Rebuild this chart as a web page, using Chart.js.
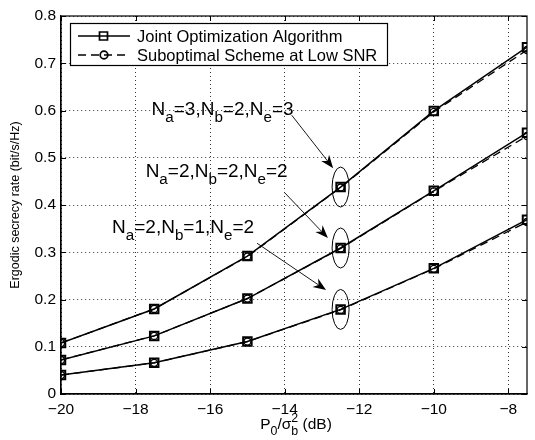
<!DOCTYPE html>
<html>
<head>
<meta charset="utf-8">
<script src="https://cdn.jsdelivr.net/npm/chart.js@4.4.1/dist/chart.umd.min.js"></script>
<style>
  html, body { margin: 0; padding: 0; background: #fff; }
  #wrap { width: 535px; height: 440px; }
</style>
</head>
<body>
<div id="wrap"><canvas id="chart" width="535" height="440"></canvas></div>
<script>
// P0/sigma_b^2 in dB
const snr = [-20, -17.5, -15, -12.5, -10, -7.5];
const xTicks = [-20, -18, -16, -14, -12, -10, -8];
const yTicks = [0, 0.1, 0.2, 0.3, 0.4, 0.5, 0.6, 0.7, 0.8];

// joint optimization algorithm
const joint323 = [0.108, 0.180, 0.292, 0.438, 0.599, 0.734];
const joint222 = [0.072, 0.123, 0.202, 0.309, 0.430, 0.553];
const joint212 = [0.040, 0.066, 0.111, 0.179, 0.266, 0.369];

// suboptimal scheme at low SNR
const sub323 = [0.108, 0.180, 0.291, 0.437, 0.597, 0.728];
const sub222 = [0.072, 0.123, 0.202, 0.308, 0.429, 0.546];
const sub212 = [0.040, 0.066, 0.111, 0.178, 0.265, 0.364];

const FONT = '"Liberation Sans", Arial, Helvetica, sans-serif';

function pts(ys) {
    return snr.map((x, i) => ({ x: x, y: ys[i] }));
}

function solid(ys) {
    return {
        data: pts(ys),
        borderColor: '#000',
        borderWidth: 1.5,
        pointStyle: 'rect',
        pointRadius: 6,
        pointBorderWidth: 2,
        pointBorderColor: '#000',
        pointBackgroundColor: 'rgba(0,0,0,0)',
        tension: 0
    };
}

function dashed(ys) {
    return {
        data: pts(ys),
        borderColor: '#000',
        borderWidth: 1.3,
        borderDash: [8, 5],
        pointStyle: 'circle',
        pointRadius: 3.5,
        pointBorderWidth: 1.3,
        pointBorderColor: '#000',
        pointBackgroundColor: 'rgba(0,0,0,0)',
        tension: 0
    };
}

// draws text with subscripts / superscripts
function richText(ctx, parts, x, y, size) {
    let cx = x;
    parts.forEach(p => {
        let fs = size, dy = 0;
        if (p.sub) { fs = size * 0.8; dy = size * 0.38; }
        if (p.sup) { fs = size * 0.8; dy = -size * 0.42; }
        ctx.font = fs + 'px ' + FONT;
        ctx.fillText(p.t, cx, y + dy);
        if (!p.stack) cx += ctx.measureText(p.t).width;
    });
    return cx;
}

function richWidth(ctx, parts, size) {
    let w = 0;
    parts.forEach(p => {
        const fs = (p.sub || p.sup) ? size * 0.8 : size;
        ctx.font = fs + 'px ' + FONT;
        if (!p.stack) w += ctx.measureText(p.t).width;
    });
    return w;
}

function nLabel(a, b, e) {
    return [
        { t: 'N' }, { t: 'a', sub: true }, { t: '=' + a + ',' },
        { t: 'N' }, { t: 'b', sub: true }, { t: '=' + b + ',' },
        { t: 'N' }, { t: 'e', sub: true }, { t: '=' + e }
    ];
}

function arrow(ctx, x1, y1, x2, y2) {
    const ang = Math.atan2(y2 - y1, x2 - x1);
    const len = 13, half = 5;
    ctx.beginPath();
    ctx.moveTo(x1, y1);
    ctx.lineTo(x2 - Math.cos(ang) * len * 0.7, y2 - Math.sin(ang) * len * 0.7);
    ctx.lineWidth = 0.9;
    ctx.stroke();
    ctx.save();
    ctx.translate(x2, y2);
    ctx.rotate(ang);
    ctx.beginPath();
    ctx.moveTo(0, 0);
    ctx.lineTo(-len, -half);
    ctx.lineTo(-len * 0.7, 0);
    ctx.lineTo(-len, half);
    ctx.closePath();
    ctx.fill();
    ctx.restore();
}

const decor = {
    id: 'decor',
    afterDraw(chart, args, opts) {
        const ctx = chart.ctx;
        const xs = chart.scales.x, ys = chart.scales.y;
        const a = chart.chartArea;
        ctx.save();
        ctx.strokeStyle = '#000';
        ctx.fillStyle = '#000';

        // box
        ctx.lineWidth = 1.2;
        ctx.strokeRect(a.left, a.top, a.right - a.left, a.bottom - a.top);

        // inward ticks
        ctx.lineWidth = 1;
        ctx.beginPath();
        xTicks.forEach(v => {
            const px = Math.round(xs.getPixelForValue(v)) + 0.5;
            ctx.moveTo(px, a.bottom); ctx.lineTo(px, a.bottom - 5);
            ctx.moveTo(px, a.top); ctx.lineTo(px, a.top + 5);
        });
        yTicks.forEach(v => {
            const py = Math.round(ys.getPixelForValue(v)) + 0.5;
            ctx.moveTo(a.left, py); ctx.lineTo(a.left + 5, py);
            ctx.moveTo(a.right, py); ctx.lineTo(a.right - 5, py);
        });
        ctx.stroke();

        // ellipses around the -12.5 dB points
        ctx.lineWidth = 1;
        [joint323, joint222, joint212].forEach(s => {
            const i = snr.indexOf(-12.5);
            ctx.beginPath();
            ctx.ellipse(xs.getPixelForValue(snr[i]), ys.getPixelForValue(s[i]), 8.5, 20, 0, 0, Math.PI * 2);
            ctx.stroke();
        });

        // arrows
        opts.arrows.forEach(ar => {
            arrow(ctx, xs.getPixelForValue(ar.from[0]), ys.getPixelForValue(ar.from[1]),
                xs.getPixelForValue(ar.to[0]), ys.getPixelForValue(ar.to[1]));
        });

        // configuration labels
        ctx.textBaseline = 'alphabetic';
        ctx.textAlign = 'left';
        opts.labels.forEach(l => {
            richText(ctx, l.parts, xs.getPixelForValue(l.x), ys.getPixelForValue(l.y), 19);
        });

        // legend
        const lx = 70, ly = 23, lw = 317, lh = 42;
        ctx.fillStyle = '#fff';
        ctx.fillRect(lx, ly, lw, lh);
        ctx.fillStyle = '#000';
        ctx.lineWidth = 1.2;
        ctx.strokeRect(lx + 0.5, ly + 0.5, lw, lh);
        const rows = [
            { text: 'Joint Optimization Algorithm', dash: [], mark: 'rect', y: ly + 13 },
            { text: 'Suboptimal Scheme at Low SNR', dash: [8, 5], mark: 'circle', y: ly + 32 }
        ];
        ctx.font = '16.5px ' + FONT;
        ctx.textBaseline = 'middle';
        rows.forEach(r => {
            ctx.beginPath();
            ctx.setLineDash(r.dash);
            ctx.lineWidth = 1.4;
            ctx.moveTo(lx + 8, r.y);
            ctx.lineTo(lx + 60, r.y);
            ctx.stroke();
            ctx.setLineDash([]);
            ctx.lineWidth = 1.7;
            ctx.beginPath();
            if (r.mark === 'rect') ctx.rect(lx + 29.5, r.y - 4, 8, 8);
            else ctx.arc(lx + 34, r.y, 3.8, 0, Math.PI * 2);
            ctx.stroke();
            ctx.fillText(r.text, lx + 67, r.y + 1);
        });

        // axis titles
        ctx.textBaseline = 'alphabetic';
        const xt = [
            { t: 'P' }, { t: '0', sub: true }, { t: '/\u03c3' },
            { t: '2', sup: true, stack: true }, { t: 'b', sub: true }, { t: ' (dB)' }
        ];
        const w = richWidth(ctx, xt, 15.5);
        richText(ctx, xt, (a.left + a.right) / 2 - w / 2 + 2, 429, 15.5);

        ctx.save();
        ctx.translate(19, (a.top + a.bottom) / 2);
        ctx.rotate(-Math.PI / 2);
        ctx.font = '12.5px ' + FONT;
        ctx.textAlign = 'center';
        ctx.fillText('Ergodic secrecy rate (bit/s/Hz)', 0, 0);
        ctx.restore();

        ctx.restore();
    }
};

new Chart(document.getElementById('chart'), {
    type: 'line',
    data: {
        datasets: [
            dashed(sub323), dashed(sub222), dashed(sub212),
            solid(joint323), solid(joint222), solid(joint212)
        ]
    },
    options: {
        responsive: false,
        animation: false,
        layout: { padding: { top: 16, right: 1, left: 0, bottom: 0 } },
        plugins: {
            legend: { display: false },
            tooltip: { enabled: false },
            decor: {
                labels: [
                    { x: -17.57, y: 0.590, parts: nLabel(3, 2, 3) },
                    { x: -17.73, y: 0.459, parts: nLabel(2, 2, 2) },
                    { x: -18.63, y: 0.341, parts: nLabel(2, 1, 2) }
                ],
                arrows: [
                    { from: [-13.81, 0.590], to: [-12.70, 0.478] },
                    { from: [-14.00, 0.426], to: [-12.84, 0.330] },
                    { from: [-14.74, 0.319], to: [-12.89, 0.220] }
                ]
            }
        },
        scales: {
            x: {
                type: 'linear',
                min: -20,
                max: -7.5,
                afterBuildTicks: s => { s.ticks = xTicks.map(v => ({ value: v })); },
                afterFit: s => { s.height = 46; },
                grid: { color: '#000', lineWidth: 0.8, drawTicks: false },
                border: { display: true, color: '#000', width: 1.2, dash: [1, 3] },
                ticks: {
                    color: '#000',
                    padding: 6,
                    font: { family: FONT, size: 15.5 },
                    maxRotation: 0,
                    callback: v => String(v).replace('-', '\u2212')
                }
            },
            y: {
                min: 0,
                max: 0.8,
                afterBuildTicks: s => { s.ticks = yTicks.map(v => ({ value: v })); },
                afterFit: s => { s.width = 61; },
                grid: { color: '#000', lineWidth: 0.8, drawTicks: false },
                border: { display: true, color: '#000', width: 1.2, dash: [1, 3] },
                ticks: {
                    color: '#000',
                    padding: 5,
                    font: { family: FONT, size: 15.5 },
                    callback: v => (v === 0 ? '0' : v.toFixed(1))
                }
            }
        }
    },
    plugins: [decor]
});
</script>
</body>
</html>
